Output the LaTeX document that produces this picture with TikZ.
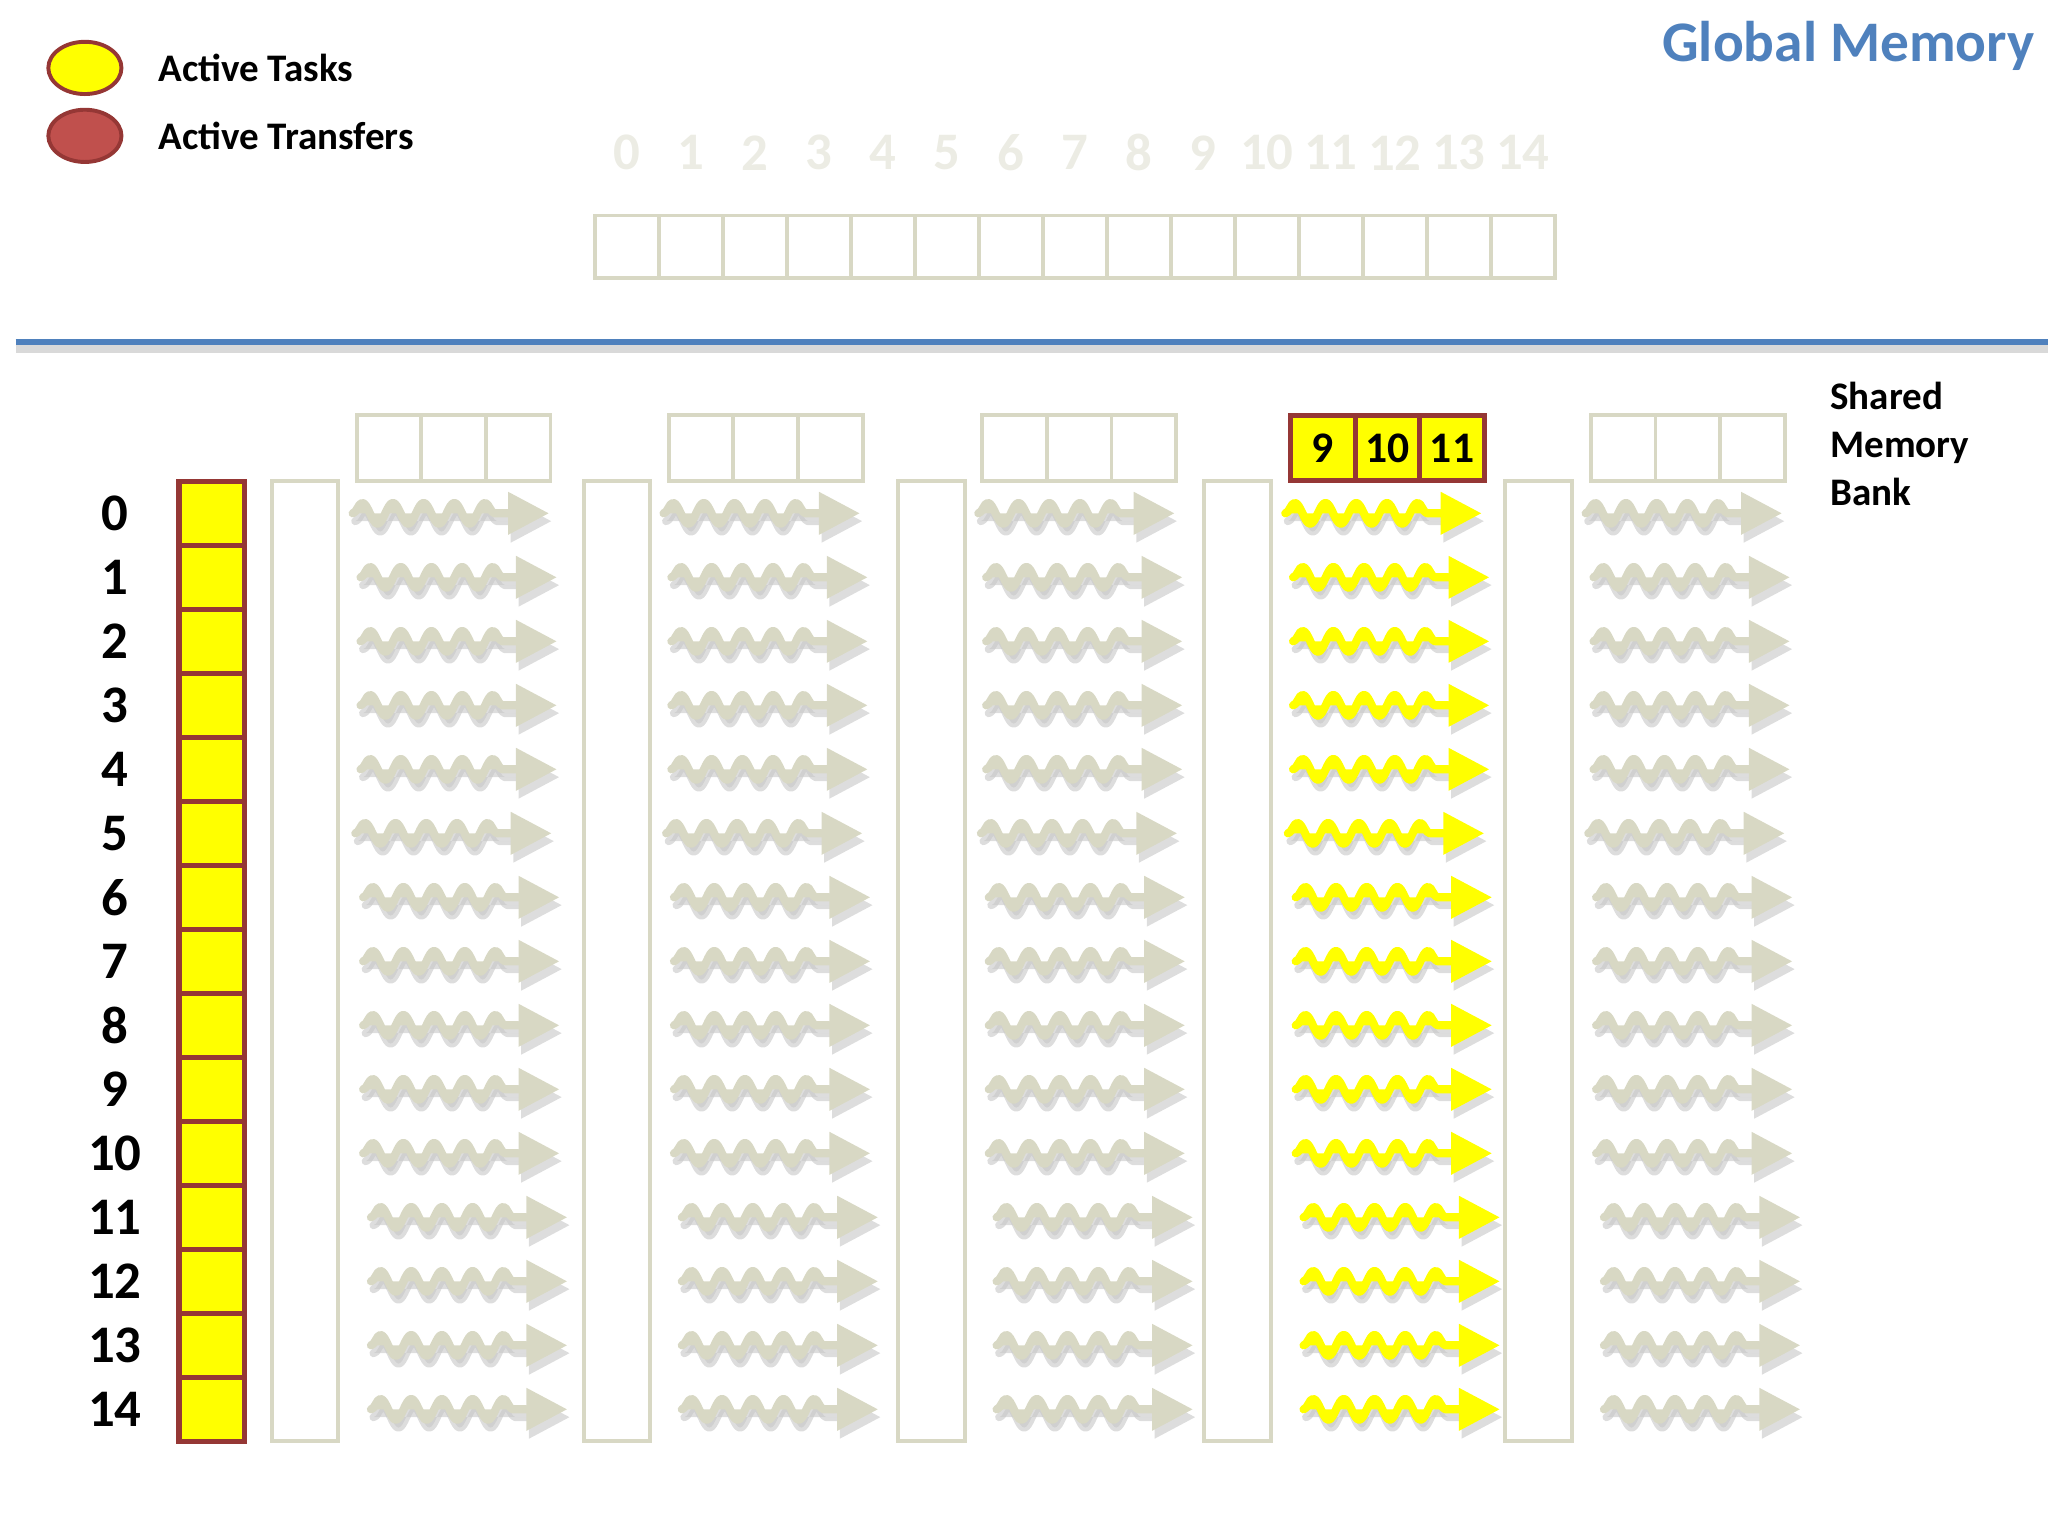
\documentclass[tikz,border=0pt]{standalone}
\usepackage{fontspec}
\setmainfont{Carlito}
\usepackage{tikz}
\usepackage{xcolor}
\usetikzlibrary{shapes.geometric,arrows.meta,decorations.pathmorphing}

\definecolor{tan}{RGB}{216,216,196}
\definecolor{darkred}{RGB}{149,55,53}
\definecolor{xferred}{RGB}{192,80,77}
\definecolor{gmblue}{RGB}{79,129,189}
\definecolor{faint}{RGB}{236,236,228}
\definecolor{taskyellow}{RGB}{255,255,0}

\begin{document}
\begin{tikzpicture}[x=0.2mm,y=-0.2mm]%
  \tikzstyle{gcell}=[rectangle,draw=tan,line width=0.6mm,fill=white,minimum width=9.8mm,minimum height=9.6mm,inner sep=0]
  \tikzstyle{gnum}=[text=faint,font=\bfseries\fontsize{23}{23}\selectfont]
  \tikzstyle{taskcell}=[rectangle,draw=darkred,fill=taskyellow,line width=0.8mm,minimum width=10mm,minimum height=9.8mm,inner sep=0]
  \tikzstyle{rownum}=[font=\bfseries\fontsize{23}{23}\selectfont]
  \tikzstyle{bankcol}=[rectangle,draw=tan,line width=0.6mm,minimum width=10.2mm,minimum height=147mm,inner sep=0]
  \tikzstyle{smcell}=[rectangle,draw=tan,line width=0.6mm,minimum width=9.9mm,minimum height=10mm,inner sep=0]
  \tikzstyle{actcell}=[rectangle,draw=darkred,fill=taskyellow,line width=0.8mm,minimum width=9.9mm,minimum height=10mm,inner sep=0,font=\bfseries\fontsize{19}{19}\selectfont]
  \tikzstyle{legend}=[ellipse,draw=darkred,line width=0.6mm,minimum width=11.2mm,minimum height=8mm]
  \tikzstyle{txt}=[font=\bfseries\fontsize{17}{21}\selectfont,inner sep=0]
  \tikzstyle{wave}=[line width=1.25mm,line cap=round,line join=round,
    decorate,decoration={snake,amplitude=1.6mm,segment length=4.7mm,post length=6.5mm},
    -{Triangle[length=6.2mm,width=6.6mm,line width=0pt]}]
  \useasboundingbox (0,0) rectangle (1568,1176);

  % legend
  \node[legend,fill=taskyellow] (lt) at (65,52) {};
  \node[legend,fill=xferred] (lx) at (65,104) {};
  \node[txt,anchor=west] (ltt) at (121,52) {Active Tasks};
  \node[txt,anchor=west] (lxt) at (121,104) {Active Transfers};
  \node[anchor=east,inner sep=0,text=gmblue,font=\bfseries\fontsize{25}{25}\selectfont] (gm) at (1558,35) {Global Memory};

  % global memory
  \foreach \i in {0,...,14} {
    \node[gcell] (g\i) at ({480+49*\i},189) {};
    \node[gnum] (gn\i) at ({480+49*\i},117) {\i};
  }
  \draw[black!15,line width=1.2mm] (12,267) -- (1568,267);
  \draw[gmblue,line width=1mm] (12,262) -- (1568,262);

  % tasks
  \foreach \r in {0,...,14} {
    \node[taskcell] (t\r) at (162,{393+49*\r}) {};
    \node[rownum] (n\r) at (88,{393+49*\r}) {\r};
  }

  % shared memory banks
  \foreach \g/\bx in {1/233.5, 2/472.5, 3/713, 4/947.5, 5/1178} {
    \node[bankcol] (b\g) at (\bx,735.5) {};
  }
  \foreach \g/\sx in {1/273, 2/512, 3/752, 5/1218} {
    \foreach \k in {0,1,2}
      \node[smcell] (s\g-\k) at ({\sx+24.75+49.5*\k},343) {};
  }
  \foreach \k in {0,1,2} {
    \pgfmathtruncatemacro\lab{9+\k}
    \node[actcell] (s4-\k) at ({988+24.75+49.5*\k},343) {\lab};
  }
  \node[txt,align=left,anchor=north west] (smb) at (1401,292) {Shared\\Memory\\Bank};

  % transfers
  \foreach \g/\ax/\col in {1/276/tan, 2/514/tan, 3/755/tan, 4/990/taskyellow, 5/1220/tan} {
    \foreach \r/\dx in {0/-6,1/0,2/0,3/0,4/0,5/-4,6/2,7/2,8/2,9/2,10/2,11/8,12/8,13/8,14/8} {
      \coordinate (w\g s\r) at ({\ax+\dx},{393+49*\r});
      \coordinate (w\g e\r) at ({\ax+\dx+150},{393+49*\r});
      \draw[wave,draw=black!22,fill=black!22,opacity=.6] ([shift={(2,6)}]w\g s\r) -- ([shift={(2,6)}]w\g e\r);
      \draw[wave,draw=\col,fill=\col] (w\g s\r) -- (w\g e\r);
    }
  }
\end{tikzpicture}
\end{document}
